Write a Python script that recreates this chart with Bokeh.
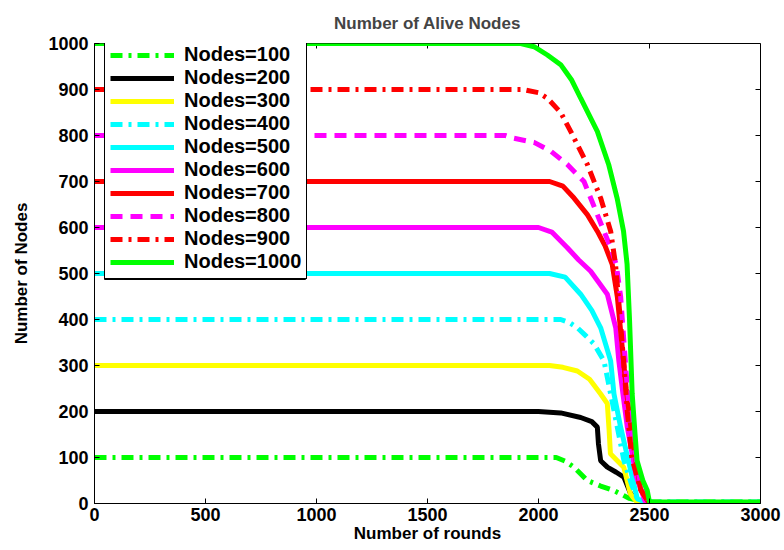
import math
from bokeh.plotting import figure
from bokeh.models import Legend, LegendItem, FixedTicker, Range1d, BoxAnnotation
from bokeh.embed import file_html
from bokeh.resources import INLINE

labels = ["Nodes=100", "Nodes=200", "Nodes=300", "Nodes=400", "Nodes=500",
          "Nodes=600", "Nodes=700", "Nodes=800", "Nodes=900", "Nodes=1000"]

rounds_100 = [0, 2080, 2120, 2160, 2220, 2280, 2340, 2410, 2480, 2500, 3000]
nodes_100 = [100, 100, 92, 79, 50, 38, 28, 11, 3, 3, 3]

rounds_200 = [0, 2000, 2100, 2190, 2240, 2265, 2270, 2280, 2310, 2350, 2385, 2415, 2450, 2500]
nodes_200 = [200, 200, 197, 187, 178, 166, 130, 93, 79, 68, 57, 21, 5, 0]

rounds_300 = [0, 2050, 2110, 2175, 2230, 2280, 2310, 2318, 2324, 2384, 2414, 2440, 2500]
nodes_300 = [300, 300, 296, 288, 270, 238, 217, 160, 108, 79, 21, 5, 0]

rounds_400 = [0, 2100, 2140, 2175, 2210, 2250, 2295, 2325, 2355, 2385, 2420, 2450, 2500, 3000]
nodes_400 = [400, 400, 393, 382, 366, 347, 310, 238, 166, 93, 40, 5, 3, 3]

rounds_500 = [0, 2050, 2120, 2190, 2240, 2280, 2325, 2340, 2370, 2405, 2445, 2500]
nodes_500 = [500, 500, 492, 455, 420, 382, 310, 238, 166, 93, 10, 0]

rounds_600 = [0, 2000, 2060, 2130, 2180, 2235, 2310, 2348, 2362, 2380, 2400, 2440, 2480, 2500]
nodes_600 = [600, 600, 590, 556, 530, 505, 455, 382, 310, 240, 166, 60, 5, 0]

rounds_700 = [0, 2050, 2110, 2160, 2220, 2265, 2300, 2332, 2355, 2375, 2395, 2420, 2460, 2500]
nodes_700 = [700, 700, 690, 664, 628, 592, 560, 520, 450, 350, 250, 150, 30, 0]

rounds_800 = [0, 1850, 1890, 1980, 2055, 2130, 2205, 2265, 2325, 2350, 2370, 2385, 2400, 2420, 2460, 2500]
nodes_800 = [800, 800, 794, 785, 766, 737, 700, 628, 556, 520, 450, 350, 250, 150, 40, 0]

rounds_900 = [0, 1930, 2000, 2040, 2100, 2145, 2220, 2280, 2325, 2347, 2365, 2385, 2400, 2420, 2460, 2500]
nodes_900 = [900, 900, 893, 881, 850, 809, 737, 664, 592, 520, 420, 300, 200, 100, 30, 0]

rounds_1000 = [0, 1920, 1980, 2040, 2100, 2150, 2190, 2265, 2316, 2354, 2383, 2399, 2410, 2422,
               2435, 2444, 2470, 2490, 2500, 3000]
nodes_1000 = [1000, 1000, 993, 975, 954, 920, 881, 809, 737, 664, 592, 520, 400, 238,
              150, 93, 50, 28, 3, 3]

x_ticks = [0, 500, 1000, 1500, 2000, 2500, 3000]
y_ticks = [0, 100, 200, 300, 400, 500, 600, 700, 800, 900, 1000]

series = [
    (rounds_100, nodes_100, "#00ff00", "12 6 3 6"),
    (rounds_200, nodes_200, "#000000", "solid"),
    (rounds_300, nodes_300, "#ffff00", "solid"),
    (rounds_400, nodes_400, "#00ffff", "12 6 3 6"),
    (rounds_500, nodes_500, "#00ffff", "solid"),
    (rounds_600, nodes_600, "#ff00ff", "solid"),
    (rounds_700, nodes_700, "#ff0000", "solid"),
    (rounds_800, nodes_800, "#ff00ff", "12 8"),
    (rounds_900, nodes_900, "#ff0000", "12 6 3 6"),
    (rounds_1000, nodes_1000, "#00ff00", "solid"),
]

FONT = "Liberation Sans"

p = figure(width=784, height=550, output_backend="svg", toolbar_location=None,
           x_range=Range1d(x_ticks[0], x_ticks[-1]), y_range=Range1d(y_ticks[0], y_ticks[-1]),
           title="Number of Alive Nodes",
           min_border_left=94, min_border_right=24, min_border_top=42, min_border_bottom=47)

p.title.align = "center"
p.title.text_font = FONT
p.title.text_font_size = "17px"
p.title.text_font_style = "bold"
p.title.offset = 0
p.title.standoff = 22

p.xgrid.visible = False
p.ygrid.visible = False
p.outline_line_color = "black"
p.outline_line_width = 1
p.background_fill_color = "white"
p.border_fill_color = "white"

for ax, ticks in ((p.xaxis[0], x_ticks), (p.yaxis[0], y_ticks)):
    ax.ticker = FixedTicker(ticks=ticks)
    ax.minor_tick_line_color = None
    ax.major_tick_in = 5
    ax.major_tick_out = 0
    ax.major_label_text_font = FONT
    ax.major_label_text_font_size = "18px"
    ax.major_label_text_font_style = "bold"
    ax.major_label_text_color = "black"
    ax.axis_label_text_font = FONT
    ax.axis_label_text_font_size = "17px"
    ax.axis_label_text_font_style = "bold"
    ax.axis_label_text_color = "black"
    ax.axis_line_color = "black"

p.xaxis.major_label_standoff = 4
p.xaxis.axis_label_standoff = 0
p.yaxis.major_label_standoff = 6
p.yaxis.axis_label_standoff = 14
p.xaxis.axis_label = "Number of rounds"
p.yaxis.axis_label = "Number of Nodes"

# inward ticks on the top and right edges of the frame
p.ray(x=x_ticks, y=[y_ticks[-1]] * len(x_ticks), length=5, angle=-math.pi / 2,
      length_units="screen", line_color="black", line_width=1)
p.ray(x=[x_ticks[-1]] * len(y_ticks), y=y_ticks, length=5, angle=math.pi,
      length_units="screen", line_color="black", line_width=1)

items = []
for (r, n, color, dash), lab in zip(series, labels):
    g = p.line(r, n, line_color=color, line_width=5, line_dash=dash)
    items.append(LegendItem(label=lab, renderers=[g]))

legend = Legend(items=items, location=(10, 224))
legend.label_text_font = FONT
legend.label_text_font_size = "20px"
legend.label_text_font_style = "bold"
legend.label_text_color = "black"
legend.glyph_width = 64
legend.glyph_height = 22
legend.label_height = 22
legend.label_standoff = 10
legend.spacing = 0
legend.padding = 5
legend.margin = 0
legend.border_line_color = "black"
legend.border_line_alpha = 1.0
legend.border_line_width = 1
legend.background_fill_color = "white"
legend.background_fill_alpha = 1
p.add_layout(legend)

# explicit frame around the legend box (frame-relative screen units)
legend_frame = BoxAnnotation(left=10, right=211, bottom=224, top=454,
                             left_units="screen", right_units="screen",
                             bottom_units="screen", top_units="screen",
                             fill_alpha=0, line_color="black", line_width=1,
                             line_alpha=1, level="overlay")
p.add_layout(legend_frame)

open("out.html", "w").write(file_html(p, INLINE))
